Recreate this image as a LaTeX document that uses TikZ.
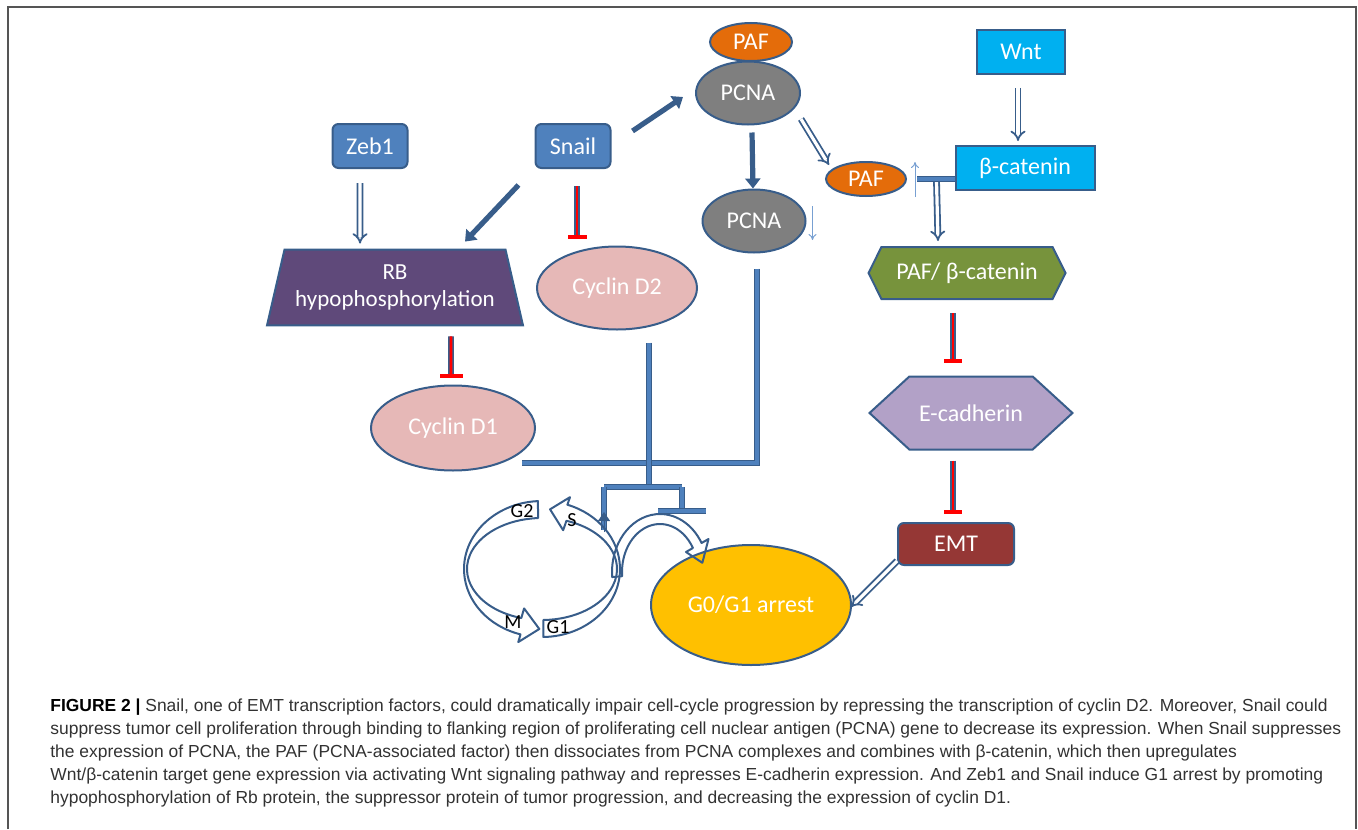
\documentclass[tikz,border=0pt]{standalone}
\usepackage{fontspec}
\setmainfont{Carlito}
\newfontfamily\capfont{Liberation Sans}
\usetikzlibrary{shapes.geometric,shapes.symbols,arrows.meta,calc}

\definecolor{edgeblue}{RGB}{56,93,138}
\definecolor{boxblue}{RGB}{79,129,189}
\definecolor{wntcyan}{RGB}{0,176,240}
\definecolor{paforange}{RGB}{228,108,10}
\definecolor{pcnagray}{RGB}{127,127,127}
\definecolor{rbpurple}{RGB}{95,73,122}
\definecolor{cycpink}{RGB}{230,184,183}
\definecolor{catgreen}{RGB}{119,147,60}
\definecolor{ecadlilac}{RGB}{178,161,199}
\definecolor{emtred}{RGB}{149,55,53}
\definecolor{arrestgold}{RGB}{255,192,0}
\definecolor{inhred}{RGB}{255,0,0}
\definecolor{hintblue}{RGB}{120,160,210}
\definecolor{framegray}{RGB}{85,85,85}
\definecolor{capgray}{RGB}{50,50,50}

\tikzset{
  every node/.style={inner sep=0pt},
  entity/.style={draw=edgeblue, line width=1pt, text=white, font=\fontsize{12}{14}\selectfont},
  factor/.style={entity, fill=boxblue, rounded corners=3pt, minimum width=37.5pt, minimum height=22pt},
  oval/.style={entity, ellipse},
  cyanbox/.style={entity, fill=wntcyan, minimum height=22pt},
  hexbox/.style={entity, signal, signal to=west and east},
  link/.style={draw=edgeblue, line width=2.6pt, -{Triangle[length=5pt,width=7.5pt]}},
  openlink/.style={draw=edgeblue, line width=0.9pt, double=white, double distance=1.6pt, -{Implies}},
  inhibit/.style={draw=edgeblue, line width=0.7pt, double=inhred, double distance=1.4pt},
  inhbar/.style={draw=inhred, line width=2pt},
  trunk/.style={draw=edgeblue, line width=0.7pt, double=boxblue, double distance=1.6pt},
  cycarrow/.style={draw=edgeblue, line width=1pt, line join=round},
  phase/.style={text=black, font=\fontsize{10}{12}\selectfont},
  hint/.style={draw=hintblue, line width=0.5pt, -{To[length=3pt,width=4pt]}},
}

\begin{document}
\begin{tikzpicture}[x=0.5pt, y=-0.5pt]
  \useasboundingbox (0,0) rectangle (1358,829);
  % frame
  \draw[framegray, line width=1pt] (8,829) -- (8,7) -- (1356,7) -- (1356,829);

  % nodes
  \node[oval, fill=paforange, minimum width=41pt, minimum height=19pt] (paftop) at (751,42) {PAF};
  \node[oval, fill=pcnagray, minimum width=52pt, minimum height=31.5pt] (pcna) at (748,93) {PCNA};
  \node[factor] (zeb1) at (370,146) {Zeb1};
  \node[factor] (snail) at (573,146) {Snail};
  \node[cyanbox, minimum width=44pt] (wnt) at (1021,52) {Wnt};
  \node[cyanbox, minimum width=69.5pt] (bcat) at (1025,168) {β-catenin};
  \node[oval, fill=paforange, minimum width=40pt, minimum height=17pt] (pafr) at (866,179) {PAF};
  \node[oval, fill=pcnagray, minimum width=51.5pt, minimum height=31.5pt] (pcnalow) at (754,221) {PCNA};
  \node[entity, trapezium, trapezium left angle=77, trapezium right angle=77,
        trapezium stretches body, fill=rbpurple, minimum width=128pt, inner ysep=7.6pt,
        align=center, font=\fontsize{11.5}{13.5}\selectfont] (rb) at (395,287.5) {RB\\hypophosphorylation};
  \node[oval, fill=cycpink, minimum width=80pt, minimum height=41.5pt] (cycd2) at (617,288) {Cyclin D2};
  \node[oval, fill=cycpink, minimum width=82pt, minimum height=42.5pt] (cycd1) at (453,428) {Cyclin D1};
  \node[hexbox, fill=catgreen, signal pointer angle=127, minimum width=98.5pt, minimum height=26pt] (pafcat) at (967,273) {PAF/ β-catenin};
  \node[hexbox, fill=ecadlilac, signal pointer angle=85, minimum width=101.5pt, minimum height=36.5pt] (ecad) at (971,413) {E-cadherin};
  \node[factor, fill=emtred, minimum width=58pt, minimum height=21pt] (emt) at (956,544) {EMT};
  \node[oval, fill=arrestgold, minimum width=100pt, minimum height=60pt] (arrest) at (751,605) {G0/G1 arrest};

  % activation
  \draw[link] ([shift={(21,-15)}]snail.east) -- ([shift={(-12,4)}]pcna.west);
  \draw[link] ([shift={(-16,16)}]snail.south west) -- ([shift={(70,-7)}]rb.north);
  \draw[link] ([shift={(4,7)}]pcna.south) -- ([shift={(-1,0)}]pcnalow.north);
  \draw[openlink] ([shift={(-10,14)}]zeb1.south) -- ([shift={(-35,-5)}]rb.north);
  \draw[openlink] ([shift={(0,26)}]pcna.east) -- ([shift={(4,-14)}]pafr.west);
  \draw[openlink] ([shift={(-3,13)}]wnt.south) -- ([shift={(-7,-4)}]bcat.north);
  \draw[openlink] ([shift={(-18,13)}]bcat.west) -- ([shift={(-29,-5)}]pafcat.north);
  \draw[trunk] ([shift={(0,11)}]bcat.west) -- ([shift={(-38,11)}]bcat.west);
  \draw[openlink] ([shift={(0,-5)}]emt.south west) -- ([shift={(-1,2)}]arrest.east);

  % up / down hints
  \draw[hint] ([shift={(6,-15)}]pcnalow.east) -- ([shift={(6,19)}]pcnalow.east);
  \draw[hint] ([shift={(8,18)}]pafr.east) -- ([shift={(8,-17)}]pafr.east);

  % inhibition
  \draw[inhibit] ([shift={(4,17)}]snail.south) -- ([shift={(-40,-9)}]cycd2.north);
  \draw[inhbar] ([shift={(-49,-9)}]cycd2.north) -- ([shift={(-30,-9)}]cycd2.north);
  \draw[inhibit] ([shift={(56,10)}]rb.south) -- ([shift={(-2,-9)}]cycd1.north);
  \draw[inhbar] ([shift={(-13,-9)}]cycd1.north) -- ([shift={(10,-9)}]cycd1.north);
  \draw[inhibit] ([shift={(-14,13)}]pafcat.south) -- ([shift={(-18,-15)}]ecad.north);
  \draw[inhbar] ([shift={(-27,-15)}]ecad.north) -- ([shift={(-9,-15)}]ecad.north);
  \draw[inhibit] ([shift={(-18,10)}]ecad.south) -- ([shift={(-3,-10)}]emt.north);
  \draw[inhbar] ([shift={(-12,-10)}]emt.north) -- ([shift={(6,-10)}]emt.north);

  % converging lines
  \coordinate (bend) at (757,463);
  \coordinate (jn) at (649,487);
  \coordinate (toS) at (604,514);
  \coordinate (toG1) at (682,511);
  \draw[trunk] ([shift={(3,15)}]pcnalow.south) -- (bend) -- ([shift={(69,35)}]cycd1.center);
  \draw[trunk] ([shift={(32,12)}]cycd2.south) -- (jn);
  \draw[trunk] (toS |- jn) -- (toG1 |- jn);
  \draw[trunk] (toS |- jn) -- ([yshift=-8]toS);
  \draw[edgeblue, -{Triangle[length=4.5pt,width=6pt]}, line width=0.5pt] ([yshift=-9]toS) -- ([yshift=1]toS);
  \draw[trunk] (toG1 |- jn) -- (toG1);
  \draw[trunk] ([xshift=-12]toG1) -- ([xshift=12]toG1);

  % cell cycle
  \coordinate (ring) at (542,569);
  \coordinate (exit) at (660,572);
  \draw[cycarrow] ($(ring)+(267:78 and 68)$) arc[start angle=267, end angle=106, x radius=78, y radius=68]
    -- ($(ring)+(106:86 and 76)$) -- ($(ring)+(92:77 and 60)$) -- ($(ring)+(106:65 and 41)$)
    -- ($(ring)+(106:75 and 51)$) arc[start angle=106, end angle=267, x radius=75, y radius=51] -- cycle;
  \draw[cycarrow] ($(ring)+(89:78 and 68)$) arc[start angle=89, end angle=-71, x radius=78, y radius=68]
    -- ($(ring)+(-71:86 and 76)$) -- ($(ring)+(-84:77 and 60)$) -- ($(ring)+(-71:65 and 41)$)
    -- ($(ring)+(-71:75 and 51)$) arc[start angle=-71, end angle=89, x radius=75, y radius=51] -- cycle;
  \draw[cycarrow] ($(exit)+(175:48 and 58)$) arc[start angle=175, end angle=330, x radius=48, y radius=58]
    -- ($(exit)+(330:56 and 66)$) -- ($(exit)+(350:43 and 53)$) -- ($(exit)+(330:30 and 40)$)
    -- ($(exit)+(330:38 and 48)$) arc[start angle=330, end angle=175, x radius=38, y radius=48] -- cycle;
  \node[phase] (g2) at (522,511) {G2};
  \node[phase] (sph) at (572,520) {S};
  \node[phase] (mph) at (513,622) {M};
  \node[phase] (g1) at (558,627) {G1};

  % caption
  \node[anchor=north west, align=left, text=capgray, font=\capfont\fontsize{8.72}{11.6}\selectfont] (caption) at (50,698)
  {\textcolor{black}{\textbf{FIGURE 2 |}} Snail, one of EMT transcription factors, could dramatically impair cell-cycle progression by repressing the transcription of cyclin D2. Moreover, Snail could\\
  suppress tumor cell proliferation through binding to flanking region of proliferating cell nuclear antigen (PCNA) gene to decrease its expression. When Snail suppresses\\
  the expression of PCNA, the PAF (PCNA-associated factor) then dissociates from PCNA complexes and combines with β-catenin, which then upregulates\\
  Wnt/β-catenin target gene expression via activating Wnt signaling pathway and represses E-cadherin expression. And Zeb1 and Snail induce G1 arrest by promoting\\
  hypophosphorylation of Rb protein, the suppressor protein of tumor progression, and decreasing the expression of cyclin D1.};
\end{tikzpicture}
\end{document}
